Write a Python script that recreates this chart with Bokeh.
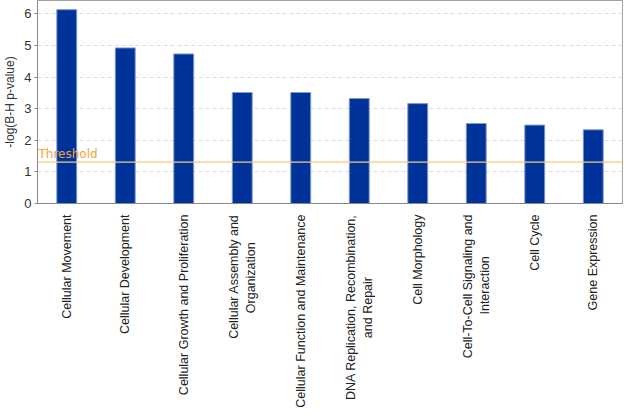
import math
from bokeh.plotting import figure
from bokeh.models import Range1d, FixedTicker, Span, Label
from bokeh.embed import file_html
from bokeh.resources import INLINE

categories = [
    "Cellular Movement",
    "Cellular Development",
    "Cellular Growth and Proliferation",
    "Cellular Assembly and\nOrganization",
    "Cellular Function and Maintenance",
    "DNA Replication, Recombination,\nand Repair",
    "Cell Morphology",
    "Cell-To-Cell Signaling and\nInteraction",
    "Cell Cycle",
    "Gene Expression",
]
values = [6.13, 4.92, 4.73, 3.51, 3.51, 3.32, 3.16, 2.53, 2.48, 2.33]
threshold = 1.31
y_ticks = [0, 1, 2, 3, 4, 5, 6]

# second lines of wrapped labels are centred in the reference: pad them with no-break spaces
line_pad = [0, 0, 0, 8, 0, 18, 0, 12, 0, 0]
factors = [c + "\u00a0" * n for c, n in zip(categories, line_pad)]

p = figure(x_range=factors, y_range=Range1d(0, 6.42), width=625, height=410,
           output_backend="svg", toolbar_location=None,
           min_border_left=27, min_border_right=3, min_border_top=0)

p.vbar(x=factors, top=values, width=0.34, fill_color="#003399",
       line_color="#7f99cc", line_width=1)

p.add_layout(Span(location=threshold, dimension="width", line_color="#f7c97a", line_width=1.2))
p.add_layout(Label(x=0, y=threshold, x_units="screen", y_offset=1, text="Threshold",
                   text_color="#f0a53a", text_font="DejaVu Sans", text_font_size="12px",
                   x_offset=1))

p.outline_line_color = "#a0a0a0"
p.xgrid.grid_line_color = None
p.ygrid.grid_line_color = "#dddddd"
p.ygrid.grid_line_dash = "4 3"

p.yaxis.ticker = FixedTicker(ticks=y_ticks)
p.yaxis.axis_label = "-log(B-H p-value)"
p.yaxis.axis_label_text_font = "Liberation Sans"
p.yaxis.axis_label_text_font_style = "normal"
p.yaxis.axis_label_text_font_size = "12px"
p.yaxis.axis_label_text_color = "#333333"
p.yaxis.axis_label_standoff = 4
p.yaxis.major_label_text_font = "Liberation Sans"
p.yaxis.major_label_text_font_size = "13px"
p.yaxis.major_label_text_color = "#333333"
p.yaxis.minor_tick_line_color = None
p.yaxis.major_tick_out = 3
p.yaxis.major_tick_in = 0
p.yaxis.major_label_standoff = 3
p.yaxis.axis_line_color = "#888888"
p.yaxis.major_tick_line_color = "#888888"

p.xaxis.major_label_orientation = math.pi / 2
p.xaxis.major_label_text_font = "Liberation Sans"
p.xaxis.major_label_text_font_size = "12.5px"
p.xaxis.major_label_text_color = "#222222"
p.xaxis.major_tick_line_color = None
p.xaxis.axis_line_color = "#888888"
p.xaxis.major_label_standoff = 5

open("out.html", "w").write(file_html(p, INLINE))
